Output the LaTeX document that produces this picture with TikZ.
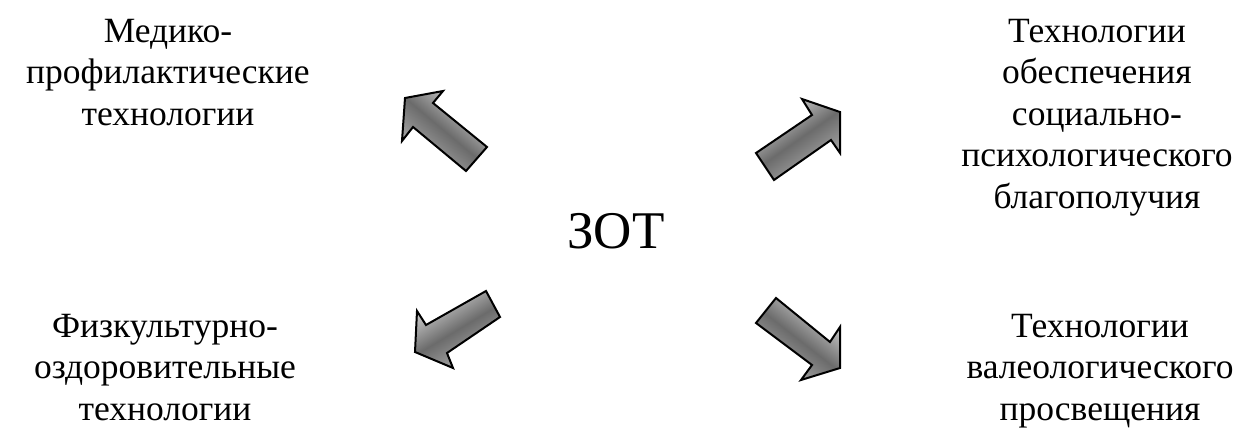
\documentclass[tikz,border=0pt]{standalone}
\usepackage{fontspec}
\setmainfont{Liberation Serif}
\begin{document}
\begin{tikzpicture}[x=1pt,y=-1pt,
  lbl/.style={align=center,anchor=base,inner sep=0pt,font=\fontsize{35.5}{41.5}\selectfont},
  fatarrow/.style={draw=black,line width=2pt,line join=miter,top color=black!15,bottom color=black!30,middle color=black!58}]
\useasboundingbox (0,0) rectangle (1244,428);
\node[lbl] (mp) at (168,125) {Медико-\\профилактические\\технологии};
\node[lbl] (sp) at (1097,208) {Технологии\\обеспечения\\социально-\\психологического\\благополучия};
\node[lbl] (fo) at (165,420) {Физкультурно-\\оздоровительные\\технологии};
\node[lbl] (vp) at (1100,420) {Технологии\\валеологического\\просвещения};
\node[anchor=base,inner sep=0pt,font=\fontsize{53}{60}\selectfont] (zot) at (616,248) {ЗОТ};
\draw[fatarrow,shading angle=-40] (405,98) -- (443,91) -- (433,103) -- (487,147) -- (466,171) -- (413,127) -- (402,141) -- cycle;
\draw[fatarrow,shading angle=35] (840,112) -- (802,99) -- (812,115) -- (756,153) -- (774,180) -- (831,140) -- (840,153) -- cycle;
\draw[fatarrow,shading angle=31] (415,352) -- (417,311) -- (426,325) -- (486,291) -- (500,317) -- (447,353) -- (453,368) -- cycle;
\draw[fatarrow,shading angle=-38] (840,368) -- (840,327) -- (830,342) -- (776,298) -- (756,323) -- (812,365) -- (801,380) -- cycle;
\end{tikzpicture}
\end{document}
